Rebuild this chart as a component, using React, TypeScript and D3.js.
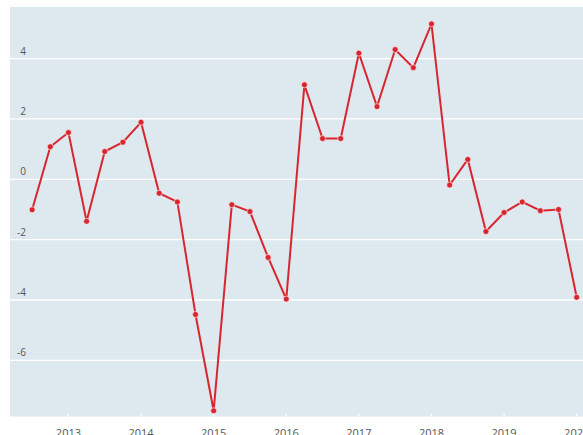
import React from "react";
import * as d3 from "d3";

const quarters: number[] = [
  2012.5, 2012.75, 2013, 2013.25, 2013.5, 2013.75, 2014, 2014.25, 2014.5, 2014.75,
  2015, 2015.25, 2015.5, 2015.75, 2016, 2016.25, 2016.5, 2016.75, 2017, 2017.25,
  2017.5, 2017.75, 2018, 2018.25, 2018.5, 2018.75, 2019, 2019.25, 2019.5, 2019.75, 2020,
];
const values: number[] = [
  -1.01, 1.08, 1.55, -1.39, 0.92, 1.23, 1.89, -0.46, -0.75, -4.48,
  -7.67, -0.84, -1.07, -2.59, -3.97, 3.13, 1.35, 1.35, 4.18, 2.41,
  4.3, 3.7, 5.15, -0.19, 0.66, -1.73, -1.1, -0.75, -1.04, -1.0, -3.91,
];
const yTicks: number[] = [-6, -4, -2, 0, 2, 4];
const xTicks: number[] = [2013, 2014, 2015, 2016, 2017, 2018, 2019, 2020];

const W = 583;
const H = 435;
const left = 10;
const top = 7;
const bottom = 416.5;

export default function App() {
  const x = d3.scaleLinear().domain([2012.195, 2020.087]).range([left, W]);
  const y = d3.scaleLinear().domain([-7.86, 5.71]).range([bottom, top]);
  const data = quarters.map((q, i) => ({ q, v: values[i] }));
  const line = d3
    .line<{ q: number; v: number }>()
    .x((d) => x(d.q))
    .y((d) => y(d.v));
  const red = "#d8262f";
  const font = "'Open Sans', 'DejaVu Sans', sans-serif";
  return (
    <svg
      width={W}
      height={H}
      style={{ position: "absolute", left: 0, top: 0, background: "#fff" }}
    >
      <rect x={left} y={top} width={W - left} height={bottom - top} fill="#dde8ef" />
      {yTicks.map((t) => (
        <g key={t}>
          <line x1={left} x2={W} y1={y(t)} y2={y(t)} stroke="#fff" strokeWidth={1.3} />
          <text
            x={26}
            y={y(t) - 4}
            textAnchor="end"
            fontFamily={font}
            fontSize={10}
            fill="#555"
          >
            {t}
          </text>
        </g>
      ))}
      {xTicks.map((t) => (
        <g key={t}>
          <line x1={x(t)} x2={x(t)} y1={bottom - 3} y2={bottom} stroke="#fff" strokeWidth={1.2} />
          <text
            x={x(t)}
            y={437}
            textAnchor="middle"
            fontFamily={font}
            fontSize={11}
            fill="#555"
          >
            {t}
          </text>
        </g>
      ))}
      <path d={line(data) || ""} fill="none" stroke={red} strokeWidth={2} />
      {data.map((d) => (
        <circle
          key={d.q}
          cx={x(d.q)}
          cy={y(d.v)}
          r={3}
          fill={red}
          stroke="#fff"
          strokeOpacity={0.6}
          strokeWidth={1}
        />
      ))}
    </svg>
  );
}
